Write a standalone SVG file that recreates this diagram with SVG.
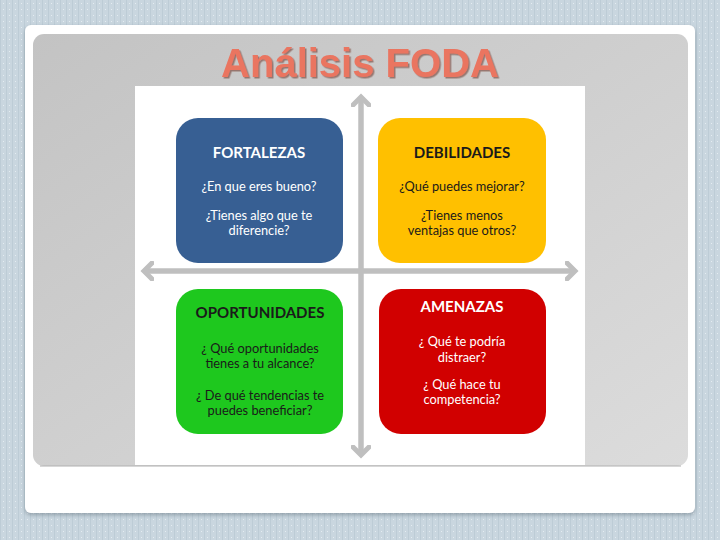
<svg xmlns="http://www.w3.org/2000/svg" width="720" height="540" viewBox="0 0 720 540">
<defs>
<pattern id="dots" width="6" height="6" patternUnits="userSpaceOnUse">
<rect width="6" height="6" fill="#c9d6df"/>
<rect x="0" y="0" width="1" height="6" fill="#bdccd6"/>
<rect x="3" y="3" width="1" height="1" fill="#e4ecf1"/>
</pattern>
<linearGradient id="panel" x1="0" y1="0" x2="1" y2="1">
<stop offset="0" stop-color="#c3c3c3"/>
<stop offset="1" stop-color="#dcdcdc"/>
</linearGradient>
<filter id="sh" x="-5%" y="-5%" width="110%" height="110%">
<feDropShadow dx="0" dy="2" stdDeviation="2" flood-color="#6d7c86" flood-opacity="0.6"/>
</filter>
<filter id="tsh" x="-5%" y="-10%" width="110%" height="130%">
<feDropShadow dx="1.5" dy="1.5" stdDeviation="0.6" flood-color="#7a4a40" flood-opacity="0.65"/>
</filter>
<marker id="ah" viewBox="0 0 20 20" refX="10" refY="10" markerWidth="20" markerHeight="20" markerUnits="userSpaceOnUse" orient="auto">
<polyline points="2,2 10,10 2,18" fill="none" stroke="#bfbfbf" stroke-width="5" stroke-linecap="round" stroke-linejoin="miter"/>
</marker>
</defs>
<style>
.box-title{font-family:Lato,"Liberation Sans",sans-serif;font-weight:bold;font-size:15px;text-anchor:middle}
.box-text{font-family:Lato,"Liberation Sans",sans-serif;font-size:12.8px;text-anchor:middle}
.w{fill:#ffffff}
.d{fill:#1a1a1a}
.axis{stroke:#bfbfbf;stroke-width:5;fill:none}
</style>
<rect width="720" height="540" fill="url(#dots)"/>
<rect x="25" y="25" width="670" height="488" rx="6" fill="#ffffff" filter="url(#sh)"/>
<rect x="33" y="34" width="655" height="432" rx="11" fill="url(#panel)"/>
<line x1="40" y1="466" x2="681" y2="466" stroke="#b0b0b0" stroke-width="1"/>
<text x="360" y="77" font-family="'Liberation Sans',Arial,sans-serif" font-weight="bold" font-size="40" text-anchor="middle" fill="#ea7460" filter="url(#tsh)">Análisis FODA</text>
<rect x="135" y="86" width="450" height="379" fill="#ffffff"/>
<g id="connectors">
<line class="axis" x1="361" y1="455" x2="361" y2="97" marker-end="url(#ah)"/>
<line class="axis" x1="361" y1="97" x2="361" y2="455" marker-end="url(#ah)"/>
<line class="axis" x1="144" y1="271" x2="575" y2="271" marker-end="url(#ah)"/>
<line class="axis" x1="575" y1="271" x2="144" y2="271" marker-end="url(#ah)"/>
</g>
<g id="fortalezas">
<rect x="176" y="118" width="167" height="145" rx="22" fill="#375f93"/>
<text class="box-title w" x="259" y="158">FORTALEZAS</text>
<text class="box-text w" x="259" y="191">¿En que eres bueno?</text>
<text class="box-text w" x="259" y="220">¿Tienes algo que te</text>
<text class="box-text w" x="259" y="235">diferencie?</text>
</g>
<g id="debilidades">
<rect x="378" y="118" width="168" height="145" rx="22" fill="#ffc000"/>
<text class="box-title d" x="462" y="158">DEBILIDADES</text>
<text class="box-text d" x="462" y="191">¿Qué puedes mejorar?</text>
<text class="box-text d" x="462" y="220">¿Tienes menos</text>
<text class="box-text d" x="462" y="235">ventajas que otros?</text>
</g>
<g id="oportunidades">
<rect x="176" y="289" width="167" height="145" rx="22" fill="#1ec81e"/>
<text class="box-title d" x="260" y="318">OPORTUNIDADES</text>
<text class="box-text d" x="260" y="353">¿ Qué oportunidades</text>
<text class="box-text d" x="260" y="368">tienes a tu alcance?</text>
<text class="box-text d" x="260" y="400">¿ De qué tendencias te</text>
<text class="box-text d" x="260" y="415">puedes beneficiar?</text>
</g>
<g id="amenazas">
<rect x="379" y="289" width="167" height="145" rx="22" fill="#d10000"/>
<text class="box-title w" x="462" y="312">AMENAZAS</text>
<text class="box-text w" x="462" y="346">¿ Qué te podría</text>
<text class="box-text w" x="462" y="362">distraer?</text>
<text class="box-text w" x="462" y="389">¿ Qué hace tu</text>
<text class="box-text w" x="462" y="404">competencia?</text>
</g>
</svg>
